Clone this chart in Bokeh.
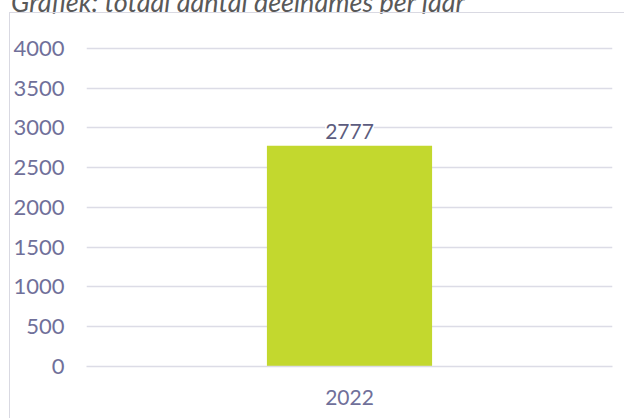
from bokeh.plotting import figure
from bokeh.models import (ColumnDataSource, LabelSet, Div,
                          FactorRange, Range1d, FixedTicker)
from bokeh.layouts import column
from bokeh.embed import file_html
from bokeh.resources import INLINE
from bokeh.core.properties import value

# ---- data ----
years = ["2022"]
counts = [2777]
count_labels = [str(c) for c in counts]
y_ticks = [0, 500, 1000, 1500, 2000, 2500, 3000, 3500, 4000]
title_text = "Grafiek: totaal aantal deelnames per jaar"

FONT = "Lato"
TICK_COLOR = "#70709a"
LABEL_COLOR = "#5c5c7e"
GRID_COLOR = "#dcdce6"
BAR_COLOR = "#c3d82e"
BOX_COLOR = "#d9d9e2"

# title above the chart box (partly cut off at the top, as in the reference)
title_div = Div(text=title_text, width=615, height=25, margin=0,
                styles={"margin-top": "-13px", "margin-bottom": "0px",
                        "margin-left": "0px", "margin-right": "0px",
                        "padding-left": "11px",
                        "font-family": FONT, "font-style": "italic",
                        "font-size": "27px", "line-height": "30px",
                        "color": "#595959", "white-space": "nowrap",
                        "overflow": "visible"})

W, H = 615, 406
p = figure(width=W, height=H,
           x_range=FactorRange(factors=years),
           y_range=Range1d(0, 4025),
           output_backend="svg", toolbar_location=None,
           min_border_left=74, min_border_right=13,
           min_border_top=33, min_border_bottom=53)
p.styles = {"border-left": f"1px solid {BOX_COLOR}",
            "border-top": f"1px solid {BOX_COLOR}",
            "margin-left": "9px"}
p.outline_line_color = None
p.background_fill_color = "white"
p.border_fill_color = "white"

src = ColumnDataSource(dict(years=years, counts=counts, labels=count_labels))
p.vbar(x="years", top="counts", width=0.314, source=src,
       fill_color=BAR_COLOR, line_color=None)

p.add_layout(LabelSet(x="years", y="counts", text="labels", source=src,
                      y_offset=7, text_align="center", text_baseline="alphabetic",
                      text_font=value(FONT), text_font_size="21px",
                      text_color=LABEL_COLOR,
                      background_fill_color="white"))

# grid
p.xgrid.grid_line_color = None
p.ygrid.ticker = FixedTicker(ticks=y_ticks)
p.ygrid.grid_line_color = GRID_COLOR
p.ygrid.grid_line_width = 1.3

# y axis
p.yaxis.ticker = FixedTicker(ticks=y_ticks)
p.yaxis.axis_line_color = None
p.yaxis.major_tick_line_color = None
p.yaxis.minor_tick_line_color = None
p.yaxis.major_tick_out = 0
p.yaxis.major_tick_in = 0
p.yaxis.major_label_standoff = 22
p.yaxis.major_label_text_font = FONT
p.yaxis.major_label_text_font_size = "22px"
p.yaxis.major_label_text_color = TICK_COLOR

# x axis
p.xaxis.axis_line_color = GRID_COLOR
p.xaxis.axis_line_width = 1.6
p.xaxis.major_tick_line_color = None
p.xaxis.minor_tick_line_color = None
p.xaxis.major_tick_out = 0
p.xaxis.major_tick_in = 0
p.xaxis.major_label_standoff = 23
p.xaxis.major_label_text_font = FONT
p.xaxis.major_label_text_font_size = "21px"
p.xaxis.major_label_text_color = TICK_COLOR

layout = column(title_div, p, spacing=0)
open("out.html", "w").write(file_html(layout, INLINE))
